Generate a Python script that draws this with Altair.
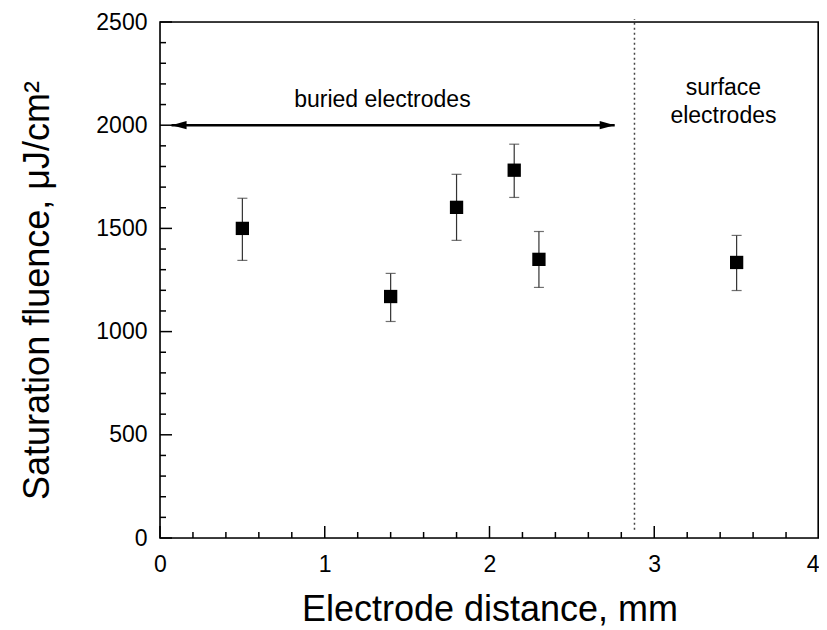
import altair as alt
import pandas as pd

# ---- data ----
x_mm = [0.5, 1.4, 1.8, 2.15, 2.3, 3.5]
fluence = [1500, 1170, 1602, 1782, 1350, 1335]
err_lo = [1345, 1049, 1442, 1650, 1214, 1199]
err_hi = [1646, 1282, 1762, 1908, 1485, 1466]

x_major = [0, 1, 2, 3, 4]
x_minor = [0.2, 0.4, 0.6, 0.8, 1.2, 1.4, 1.6, 1.8, 2.2, 2.4, 2.6, 2.8,
           3.2, 3.4, 3.6, 3.8]
y_major = [0, 500, 1000, 1500, 2000, 2500]
y_minor = [100, 200, 300, 400, 600, 700, 800, 900, 1100, 1200, 1300, 1400,
           1600, 1700, 1800, 1900, 2100, 2200, 2300, 2400]

divider_x = [2.88]
divider_y = [40]
divider_y2 = [2515]

arrow_start = [0.07]
arrow_end = [2.76]
arrow_y = [2000]

label_buried = ["buried electrodes"]
label_buried_x = [1.35]
label_buried_y = [2088]
label_surface = [["surface", "electrodes"]]
label_surface_x = [3.42]
label_surface_y = [2146]

W, H = 659, 516
FONT = "Liberation Sans"

pts = pd.DataFrame({"x": x_mm, "y": fluence, "lo": err_lo, "hi": err_hi})
xmaj = pd.DataFrame({"x": x_major})
xmin = pd.DataFrame({"x": x_minor})
ymaj = pd.DataFrame({"y": y_major})
ymin = pd.DataFrame({"y": y_minor})
div = pd.DataFrame({"x": divider_x, "y": divider_y, "y2": divider_y2})
arr = pd.DataFrame({"x": arrow_start, "x2": arrow_end, "y": arrow_y})
arr_l = pd.DataFrame({"x": arrow_start, "y": arrow_y})
arr_r = pd.DataFrame({"x": arrow_end, "y": arrow_y})
t1 = pd.DataFrame({"x": label_buried_x, "y": label_buried_y, "t": label_buried})
t2 = pd.DataFrame({"x": label_surface_x, "y": label_surface_y, "t": label_surface})

xs = alt.Scale(domain=[0, 4], nice=False, zero=False)
ys = alt.Scale(domain=[0, 2500], nice=False, zero=False)

x_axis = alt.Axis(
    values=x_major, format="d", title="Electrode distance, mm",
    ticks=False, tickSize=0, domain=False, grid=False,
    labelFont=FONT, labelFontSize=23, labelColor="black", labelPadding=15,
    labelFlush=False,
    labelAlign=alt.ExprRef(expr="datum.value == 4 ? 'right' : 'center'"),
    titleFont=FONT, titleFontSize=36, titleFontWeight="normal", titleColor="black",
    titleBaseline="alphabetic", titleY=82,
)
y_axis = alt.Axis(
    values=y_major, format="d", title="Saturation fluence, μJ/cm²",
    ticks=False, tickSize=0, domain=False, grid=False,
    labelFont=FONT, labelFontSize=23, labelColor="black", labelPadding=13,
    labelFlush=False,
    titleFont=FONT, titleFontSize=36, titleFontWeight="normal", titleColor="black",
    titleBaseline="alphabetic", titleAlign="center", titleAngle=270,
    titleX=-112, titleY=268,
)


def X(f):
    return alt.X(f, type="quantitative", scale=xs, axis=x_axis)


def Y(f):
    return alt.Y(f, type="quantitative", scale=ys, axis=y_axis)


frame = alt.Chart(xmaj.head(1)).mark_rect(
    fill=None, stroke="black", strokeWidth=1.6).encode(
    x=alt.value(0), x2=alt.value(W - 0.8), y=alt.value(0), y2=alt.value(H))

stems = alt.Chart(pts).mark_rule(color="#333333", strokeWidth=1.2).encode(
    x=X("x"), y=Y("lo"), y2="hi")

caps = alt.Chart(pts).transform_fold(["lo", "hi"], as_=["k", "v"]).mark_tick(
    orient="horizontal", size=10, thickness=1.2, color="#333333").encode(
    x=X("x"), y=Y("v"))

squares = alt.Chart(pts).mark_point(
    shape="square", filled=True, size=177, color="black", opacity=1).encode(
    x=X("x"), y=Y("y"))

xtick_major = alt.Chart(xmaj).mark_rule(color="black", strokeWidth=1.5).encode(
    x=X("x"), y=alt.value(H), y2=alt.value(H - 12))
xtick_minor = alt.Chart(xmin).mark_rule(color="black", strokeWidth=1.5).encode(
    x=X("x"), y=alt.value(H), y2=alt.value(H - 6))
ytick_major = alt.Chart(ymaj).mark_rule(color="black", strokeWidth=1.5).encode(
    y=Y("y"), x=alt.value(0), x2=alt.value(12))
ytick_minor = alt.Chart(ymin).mark_rule(color="black", strokeWidth=1.5).encode(
    y=Y("y"), x=alt.value(0), x2=alt.value(6))

divider = alt.Chart(div).mark_rule(
    color="#444444", strokeWidth=1.5, strokeDash=[2, 3]).encode(
    x=X("x"), y=Y("y"), y2="y2")

arrow_line = alt.Chart(arr).mark_rule(color="black", strokeWidth=2.5).encode(
    x=X("x"), x2="x2", y=Y("y"))
head_l = alt.Chart(arr_l).mark_point(
    shape="M 0 0 L 2 -0.55 L 2 0.55 Z", filled=True, size=225,
    color="black", opacity=1).encode(x=X("x"), y=Y("y"))
head_r = alt.Chart(arr_r).mark_point(
    shape="M 0 0 L -2 -0.55 L -2 0.55 Z", filled=True, size=225,
    color="black", opacity=1).encode(x=X("x"), y=Y("y"))

text1 = alt.Chart(t1).mark_text(
    font=FONT, fontSize=23, color="black", align="center",
    baseline="alphabetic").encode(x=X("x"), y=Y("y"), text="t")
text2 = alt.Chart(t2).mark_text(
    font=FONT, fontSize=23, color="black", align="center",
    baseline="alphabetic", lineHeight=28).encode(x=X("x"), y=Y("y"), text="t")

chart = alt.layer(
    stems, caps, squares, xtick_major, xtick_minor, ytick_major, ytick_minor,
    divider, arrow_line, head_l, head_r, text1, text2, frame,
).properties(
    width=W, height=H,
    autosize=alt.AutoSizeParams(type="none"),
    padding={"left": 152, "top": 14, "right": 0, "bottom": 94},
).configure_view(strokeWidth=0).configure(background="white")

chart.save("out.html", embed_options={"renderer": "svg", "actions": False})
